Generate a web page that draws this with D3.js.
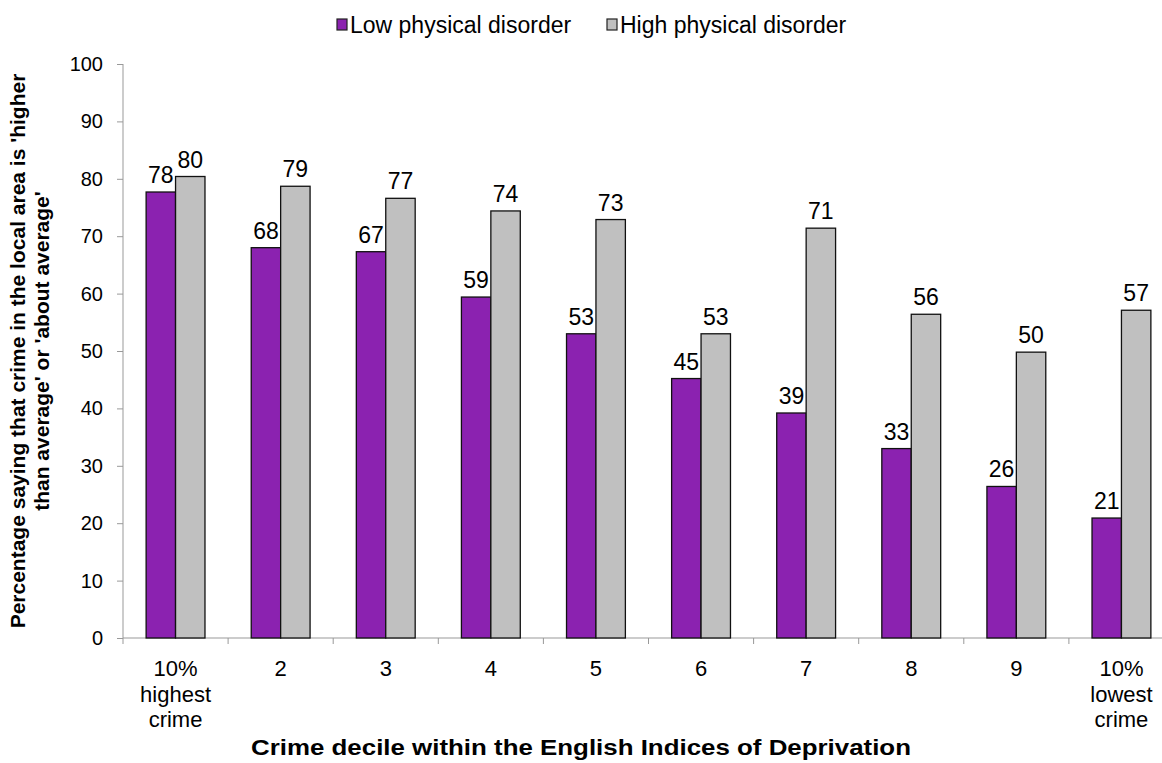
<!DOCTYPE html>
<html><head><meta charset="utf-8">
<script src="https://cdn.jsdelivr.net/npm/d3@7"></script>
<style>body{margin:0;background:#fff}svg{display:block;font-family:"Liberation Sans",Arial,sans-serif}</style>
</head><body><svg id="c" width="1162" height="763"></svg>
<script>
const categories = [["10%","highest","crime"],["2"],["3"],["4"],["5"],["6"],["7"],["8"],["9"],["10%","lowest","crime"]];
const lowDisorder  = [77.7, 68.0, 67.3, 59.4, 53.0, 45.2, 39.2, 33.0, 26.4, 20.9];
const highDisorder = [80.4, 78.7, 76.6, 74.4, 72.9, 53.0, 71.4, 56.4, 49.8, 57.1];
const seriesNames = ["Low physical disorder","High physical disorder"];
const seriesColors = ["#8B22B0","#C0C0C0"];
const yTicks = [0,10,20,30,40,50,60,70,80,90,100];

const svg = d3.select("#c");
const m = {left:123, right:1174, top:64, bottom:638};
const x = d3.scaleBand().domain(d3.range(categories.length)).range([m.left, m.right]).padding(0);
const y = d3.scaleLinear().domain([0,100]).range([m.bottom, m.top]);
const bw = x.bandwidth()*0.28;

// axes
const yAx = svg.append("g").attr("transform",`translate(${m.left},0)`)
  .call(d3.axisLeft(y).tickValues(yTicks).tickSize(6).tickPadding(14).tickFormat(d3.format("d")));
yAx.selectAll("path,line").attr("stroke","#999");
yAx.select("path").attr("d",`M0,${m.top}V${m.bottom+6}`);
yAx.selectAll("text").attr("font-size",20).attr("fill","#000").attr("font-family","Liberation Sans, Arial, sans-serif");

const xAx = svg.append("g").attr("transform",`translate(0,${m.bottom})`);
xAx.append("line").attr("x1",m.left).attr("x2",m.right).attr("stroke","#999");
xAx.selectAll(".tk").data(d3.range(1,categories.length+1)).join("line")
  .attr("x1",i=>x(0)+i*x.step()).attr("x2",i=>x(0)+i*x.step()).attr("y1",0).attr("y2",6).attr("stroke","#999");
xAx.selectAll(".lab").data(categories).join("text")
  .attr("text-anchor","middle").attr("font-size",22).attr("fill","#000")
  .attr("transform",(d,i)=>`translate(${x(i)+x.bandwidth()/2},38)`)
  .each(function(d){ d3.select(this).selectAll("tspan").data(d).join("tspan").attr("x",0).attr("dy",(t,j)=>j?25.5:0).text(t=>t);});

// bars
const data = [lowDisorder, highDisorder];
data.forEach((vals,s)=>{
  const g = svg.append("g");
  g.selectAll("rect").data(vals).join("rect")
    .attr("x",(v,i)=>x(i)+x.bandwidth()/2 - bw + s*bw)
    .attr("y",v=>y(v)).attr("width",bw).attr("height",v=>y(0)-y(v))
    .attr("fill",seriesColors[s]).attr("stroke","#111").attr("stroke-width",1.3);
  g.selectAll("text").data(vals).join("text")
    .attr("x",(v,i)=>x(i)+x.bandwidth()/2 - bw/2 + s*bw)
    .attr("y",v=>y(v)-9).attr("text-anchor","middle").attr("font-size",23).attr("fill","#000")
    .text(v=>Math.round(v));
});

// legend
const leg = svg.append("g");
const legX = [337, 607];
seriesNames.forEach((n,i)=>{
  leg.append("rect").attr("x",legX[i]).attr("y",19).attr("width",10).attr("height",11)
    .attr("fill",seriesColors[i]).attr("stroke","#222").attr("stroke-width",1.2);
  leg.append("text").attr("x",legX[i]+13).attr("y",33).attr("font-size",23).attr("fill","#000").text(n);
});

// axis titles
svg.append("text").attr("x",581).attr("y",755).attr("text-anchor","middle").attr("font-size",22)
  .attr("font-weight","bold").attr("textLength",660).attr("lengthAdjust","spacingAndGlyphs")
  .text("Crime decile within the English Indices of Deprivation");
const yt = svg.append("text").attr("transform",`translate(0,${(m.top+m.bottom)/2}) rotate(-90)`)
  .attr("text-anchor","middle").attr("font-size",21).attr("font-weight","bold");
yt.append("tspan").attr("x",0).attr("y",25).text("Percentage saying that crime in the local area is 'higher");
yt.append("tspan").attr("x",0).attr("y",49).text("than average' or 'about average'");
</script></body></html>
